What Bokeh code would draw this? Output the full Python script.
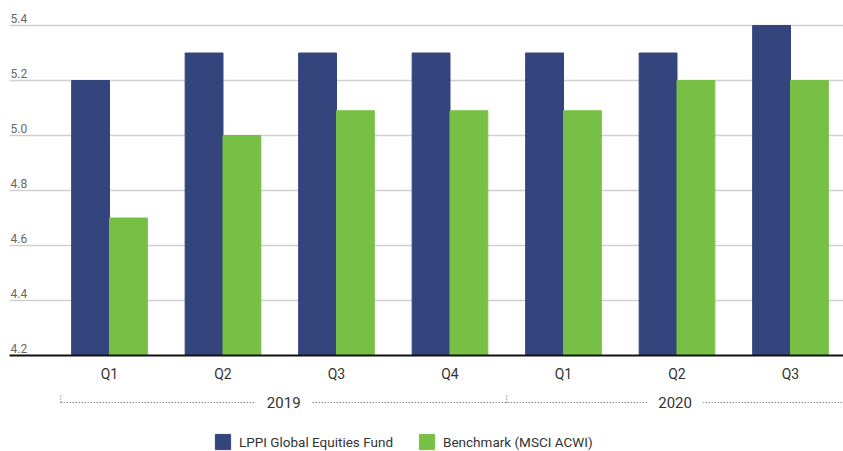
from bokeh.plotting import figure
from bokeh.layouts import column
from bokeh.core.properties import value
from bokeh.models import Range1d, LinearAxis, FixedTicker, Label, Legend, LegendItem, Grid
from bokeh.embed import file_html
from bokeh.resources import INLINE

quarters = ["Q1", "Q2", "Q3", "Q4", "Q1", "Q2", "Q3"]
years = ["2019", "2020"]
year_first = [0, 4]
year_last = [3, 6]
fund = [5.2, 5.3, 5.3, 5.3, 5.3, 5.3, 5.4]
bench = [4.7, 5.0, 5.09, 5.09, 5.09, 5.2, 5.2]
y_ticks = [4.2, 4.4, 4.6, 4.8, 5.0, 5.2, 5.4]
series_names = ["LPPI Global Equities Fund", "Benchmark (MSCI ACWI)"]

BLUE = "#34447D"
GREEN = "#78C045"
FONT = "Roboto"
TXT = "#333333"

idx = list(range(len(quarters)))
x_start, x_end = -0.881, 6.467
xr = Range1d(x_start, x_end)

# ---------------- main bar chart ----------------
p = figure(frame_width=834, frame_height=350, output_backend="svg", toolbar_location=None,
           x_range=xr, y_range=Range1d(4.2, 5.4 + 20 / 275),
           min_border_left=9, min_border_right=0, min_border_top=5, min_border_bottom=0,
           x_axis_type=None, y_axis_type=None)
p.outline_line_color = None
p.add_layout(Grid(dimension=1, ticker=FixedTicker(ticks=y_ticks),
                  grid_line_color="#d0d0d0", grid_line_width=1.5))

bw = 1 / 3
r1 = p.vbar(x=[i - bw / 2 for i in idx], top=fund, bottom=4.2, width=bw, color=BLUE)
r2 = p.vbar(x=[i + bw / 2 for i in idx], top=bench, bottom=4.2, width=bw, color=GREEN)

for t in y_ticks:
    p.add_layout(Label(x=x_start, y=t, x_offset=1, y_offset=3, text=f"{t:.1f}",
                       text_font=FONT, text_font_size="12px", text_color="#666666",
                       text_baseline="bottom", text_align="left"))

ax = LinearAxis(ticker=FixedTicker(ticks=idx),
                major_label_overrides={i: q for i, q in zip(idx, quarters)})
ax.axis_line_color = "#111111"
ax.axis_line_width = 2
ax.major_tick_line_color = None
ax.minor_tick_line_color = None
ax.major_label_standoff = 4
ax.major_label_text_font = FONT
ax.major_label_text_font_size = "14px"
ax.major_label_text_color = TXT
p.add_layout(ax, "below")

# ---------------- year grouping row + legend ----------------
H2 = 67
p2 = figure(frame_width=834, frame_height=H2, output_backend="svg", toolbar_location=None,
            x_range=xr, y_range=Range1d(H2, 0),
            min_border_left=9, min_border_right=0, min_border_top=0, min_border_bottom=0,
            x_axis_type=None, y_axis_type=None)
p2.outline_line_color = None

g_left = -0.43
g_mid = year_first[1] - 0.5
starts = [g_left, g_mid]
ends = [g_mid, x_end]
line_y = 18
p2.segment(x0=[g_left], x1=[x_end], y0=[line_y], y1=[line_y],
           line_color="#555555", line_width=1, line_dash="1 2")
p2.segment(x0=starts, x1=starts, y0=[line_y - 7] * 2, y1=[line_y] * 2,
           line_color="#555555", line_width=1, line_dash="1 2")
mids = [(a + b) / 2 for a, b in zip(starts, ends)]
p2.rect(x=mids, y=[line_y] * 2, width=[56] * 2, height=[16] * 2,
        width_units="screen", height_units="screen", fill_color="white", line_color=None)
p2.text(x=mids, y=[line_y] * 2, text=years, text_font=value(FONT), text_font_size="15px",
        text_color=TXT, text_align="center", text_baseline="middle")

# legend proxies (placed outside the visible range)
l1 = p2.rect(x=[-100], y=[-100], width=0.1, height=0.1, fill_color=BLUE, line_color=BLUE)
l2 = p2.rect(x=[-100], y=[-100], width=0.1, height=0.1, fill_color=GREEN, line_color=GREEN)
legend = Legend(items=[LegendItem(label=series_names[0], renderers=[l1]),
                       LegendItem(label=series_names[1], renderers=[l2])],
                orientation="horizontal", location=(204, 0),
                glyph_width=19, glyph_height=19, label_standoff=7, spacing=24,
                label_text_font=FONT, label_text_font_size="13.5px",
                label_text_color=TXT, border_line_color=None,
                background_fill_alpha=0, padding=0, margin=0)
p2.add_layout(legend, "center")

layout = column(p, p2, spacing=0)
open("out.html", "w").write(file_html(layout, INLINE))
